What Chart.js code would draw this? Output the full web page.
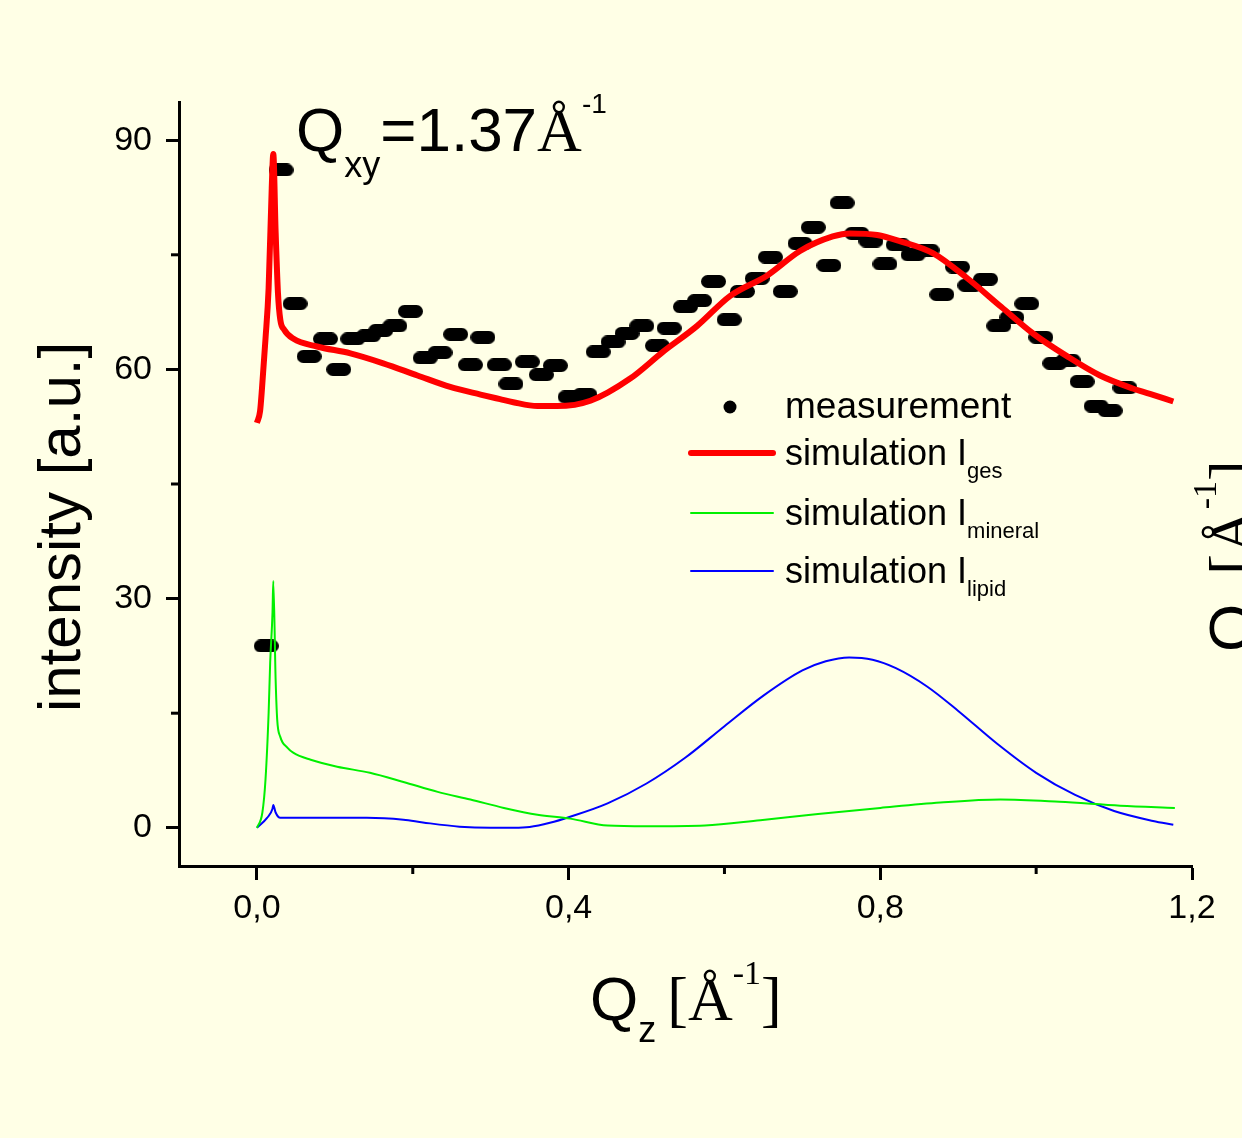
<!DOCTYPE html>
<html>
<head>
<meta charset="utf-8">
<script src="https://cdn.jsdelivr.net/npm/chart.js@4.4.0/dist/chart.umd.min.js"></script>
<style>
  html, body { margin: 0; padding: 0; background: #ffffe6; }
  canvas { display: block; }
</style>
</head>
<body>
<canvas id="chart" width="1242" height="1138"></canvas>
<script>
// measured points
const measQ = [0.012, 0.031, 0.049, 0.067, 0.088, 0.105, 0.123, 0.143, 0.159, 0.177, 0.197, 0.216, 0.235, 0.255, 0.274, 0.290,
  0.311, 0.326, 0.347, 0.365, 0.383, 0.402, 0.421, 0.438, 0.457, 0.475, 0.494, 0.514, 0.529, 0.550, 0.568, 0.586,
  0.606, 0.623, 0.642, 0.659, 0.678, 0.697, 0.714, 0.734, 0.751, 0.770, 0.788, 0.806, 0.823, 0.842, 0.860, 0.879,
  0.899, 0.915, 0.935, 0.952, 0.969, 0.988, 1.006, 1.024, 1.041, 1.059, 1.077, 1.095, 1.114];
const measI = [23.8, 86.1, 68.6, 61.7, 64.0, 60.0, 64.0, 64.4, 65.1, 65.7, 67.6, 61.5, 62.2, 64.6, 60.6, 64.2,
  60.6, 58.1, 61.0, 59.3, 60.5, 56.4, 56.7, 62.3, 63.6, 64.7, 65.7, 63.1, 65.4, 68.2, 69.0, 71.5,
  66.5, 70.2, 71.9, 74.7, 70.2, 76.5, 78.6, 73.6, 81.8, 77.8, 76.8, 73.8, 76.3, 75.0, 75.6, 69.8,
  73.4, 71.0, 71.8, 65.7, 66.8, 68.6, 64.2, 60.8, 61.2, 58.4, 55.2, 54.6, 57.6];

// simulation I_ges
const gesQ = [0.000, 0.004, 0.0065, 0.011, 0.015, 0.019, 0.021, 0.024, 0.027, 0.030, 0.035, 0.047, 0.077, 0.120, 0.162,
  0.206, 0.248, 0.287, 0.312, 0.329, 0.360, 0.385, 0.428, 0.479, 0.521, 0.565, 0.607, 0.655, 0.697, 0.739, 0.761,
  0.796, 0.825, 0.868, 0.912, 0.955, 0.996, 1.040, 1.082, 1.124, 1.146, 1.176];
const gesI = [53.0, 54.5, 57.5, 64.0, 70.6, 83.7, 88.2, 78.0, 70.0, 66.5, 65.2, 64.0, 63.0, 62.1, 60.8,
  59.2, 57.7, 56.7, 56.1, 55.7, 55.2, 55.2, 55.9, 58.8, 62.3, 65.7, 69.6, 72.3, 75.5, 77.4, 77.8,
  77.6, 76.8, 75.2, 71.9, 68.2, 64.7, 61.7, 59.2, 57.5, 56.8, 55.8];

// simulation I_mineral
const minQ = [0.000, 0.007, 0.011, 0.015, 0.017, 0.020, 0.021, 0.024, 0.026, 0.030, 0.039, 0.047, 0.069, 0.103, 0.145,
  0.188, 0.232, 0.274, 0.317, 0.360, 0.402, 0.450, 0.500, 0.575, 0.646, 0.720, 0.800, 0.877, 0.954, 1.030, 1.108, 1.178];
const minI = [0.0, 2.0, 6.3, 15.0, 21.6, 28.2, 32.3, 19.4, 14.2, 11.9, 10.5, 9.8, 8.9, 8.0, 7.2,
  6.0, 4.7, 3.7, 2.6, 1.7, 1.2, 0.3, 0.2, 0.3, 1.0, 1.8, 2.6, 3.3, 3.7, 3.4, 2.9, 2.6];

// simulation I_lipid
const lipQ = [0.000, 0.013, 0.020, 0.021, 0.024, 0.030, 0.141, 0.188, 0.213, 0.260, 0.300, 0.330, 0.350, 0.376, 0.402,
  0.450, 0.500, 0.550, 0.600, 0.650, 0.700, 0.730, 0.760, 0.790, 0.820, 0.860, 0.900, 0.950, 1.000, 1.050, 1.100, 1.150, 1.176];
const lipI = [0.0, 1.3, 2.5, 3.0, 2.0, 1.3, 1.3, 1.05, 0.7, 0.15, 0.0, 0.0, 0.1, 0.65, 1.45,
  3.2, 5.8, 9.2, 13.3, 17.3, 20.6, 21.8, 22.3, 22.0, 20.9, 18.5, 15.3, 11.0, 7.2, 4.3, 2.2, 0.9, 0.4];

const xTicks = [0, 0.2, 0.4, 0.6, 0.8, 1.0, 1.2];
const xTickLabels = ["0,0", "", "0,4", "", "0,8", "", "1,2"];
const yTicks = [0, 15, 30, 45, 60, 75, 90];
const yTickLabels = ["0", "", "30", "", "60", "", "90"];

const SANS = "'Liberation Sans', Arial, sans-serif";
const SERIF = "'Liberation Serif', 'Times New Roman', serif";
const BG = "#ffffe6";

function pts(xs, ys) { return xs.map((x, i) => ({ x: x, y: ys[i] })); }

// the measured points look like short black pills
function makePill(w, h) {
  const c = document.createElement("canvas");
  c.width = w; c.height = h;
  const g = c.getContext("2d");
  const r = h / 2;
  g.fillStyle = "#000";
  g.beginPath();
  g.arc(r, r, r, Math.PI / 2, Math.PI * 1.5);
  g.lineTo(w - r, 0);
  g.arc(w - r, r, r, -Math.PI / 2, Math.PI / 2);
  g.closePath();
  g.fill();
  return c;
}

// text run with sub/superscripts: parts = [[text, font, dy], ...]
function drawRich(ctx, parts, x, y) {
  let cx = x;
  parts.forEach(p => {
    ctx.font = p[1];
    ctx.fillText(p[0], cx, y + (p[2] || 0));
    cx += ctx.measureText(p[0]).width;
  });
  return cx;
}

const qzParts = [
  ["Q", "62px " + SANS, 0],
  ["z", "36px " + SANS, 22],
  [" ", "40px " + SANS, 0],
  ["[", "62px " + SERIF, 0],
  ["Å", "62px " + SERIF, 0],
  ["-1", "34px " + SERIF, -36],
  ["]", "62px " + SERIF, 0]
];

const bgPlugin = {
  id: "bg",
  beforeDraw(chart) {
    const c = chart.ctx;
    c.save();
    c.fillStyle = BG;
    c.fillRect(0, 0, chart.width, chart.height);
    c.restore();
  }
};

const textPlugin = {
  id: "texts",
  afterDraw(chart) {
    const c = chart.ctx;
    const xs = chart.scales.x, ys = chart.scales.y;
    c.save();
    c.fillStyle = "#000";
    c.textBaseline = "alphabetic";
    c.textAlign = "left";

    // minor ticks (shorter)
    c.strokeStyle = "#000";
    c.lineWidth = 3;
    xTicks.forEach((v, i) => {
      if (xTickLabels[i]) return;
      const px = xs.getPixelForValue(v);
      c.beginPath(); c.moveTo(px, xs.top); c.lineTo(px, xs.top + 8); c.stroke();
    });
    yTicks.forEach((v, i) => {
      if (yTickLabels[i]) return;
      const py = ys.getPixelForValue(v);
      c.beginPath(); c.moveTo(ys.right, py); c.lineTo(ys.right - 8, py); c.stroke();
    });

    // top label
    drawRich(c, [
      ["Q", "62px " + SANS, 0],
      ["xy", "36px " + SANS, 26],
      ["=1.37", "62px " + SANS, 0],
      ["Å", "62px " + SERIF, 0],
      ["-1", "28px " + SANS, -38]
    ], 296, 151);

    // x title
    drawRich(c, qzParts, 590, 1020);

    // y title
    c.save();
    c.translate(80, 527);
    c.rotate(-Math.PI / 2);
    c.font = "60px " + SANS;
    c.textAlign = "center";
    c.fillText("intensity [a.u.]", 0, 0);
    c.restore();

    // cut-off title at the right edge
    c.save();
    c.translate(1252, 652);
    c.rotate(-Math.PI / 2);
    drawRich(c, qzParts, 0, 0);
    c.restore();

    // legend
    const ds = chart.data.datasets;
    const lx = 785;
    c.beginPath(); c.arc(730, 407, 6.5, 0, Math.PI * 2); c.fill();
    c.font = "37px " + SANS;
    c.fillText("measurement", lx, 418);
    const rows = [
      [ds[0], "ges", 453, 465],
      [ds[1], "mineral", 513, 525],
      [ds[2], "lipid", 571, 583]
    ];
    rows.forEach(r => {
      c.strokeStyle = r[0].borderColor;
      c.lineWidth = r[0].borderWidth;
      c.lineCap = "round";
      c.beginPath(); c.moveTo(691, r[2]); c.lineTo(773, r[2]); c.stroke();
      drawRich(c, [["simulation I", "36px " + SANS, 0], [r[1], "22px " + SANS, 13]], lx, r[3]);
    });
    c.restore();
  }
};

document.addEventListener("DOMContentLoaded", () => {
  const ctx = document.getElementById("chart").getContext("2d");
  const pill = makePill(25, 13);

  new Chart(ctx, {
    type: "scatter",
    data: {
      datasets: [
        { label: "simulation I ges", data: pts(gesQ, gesI), showLine: true, borderColor: "#ff0000", borderWidth: 6,
          pointRadius: 0, cubicInterpolationMode: "monotone", order: 0 },
        { label: "simulation I mineral", data: pts(minQ, minI), showLine: true, borderColor: "#00f000", borderWidth: 2,
          pointRadius: 0, cubicInterpolationMode: "monotone", order: 1 },
        { label: "simulation I lipid", data: pts(lipQ, lipI), showLine: true, borderColor: "#0000ff", borderWidth: 2,
          pointRadius: 0, cubicInterpolationMode: "monotone", order: 2 },
        { label: "measurement", data: pts(measQ, measI), showLine: false, pointStyle: pill, order: 3 }
      ]
    },
    options: {
      responsive: false,
      animation: false,
      layout: { padding: { top: 102, right: 50, left: 0, bottom: 0 } },
      plugins: { legend: { display: false }, tooltip: { enabled: false } },
      scales: {
        x: {
          type: "linear", min: -0.1, max: 1.2,
          afterBuildTicks: s => { s.ticks = xTicks.map(v => ({ value: v })); },
          afterFit: s => { s.height = 272; },
          ticks: { callback: (v, i) => xTickLabels[i], color: "#000", padding: 8, maxRotation: 0, autoSkip: false,
            font: { family: SANS, size: 34 } },
          grid: { drawOnChartArea: false, tickLength: 14, tickWidth: 3,
            tickColor: c => xTickLabels[c.index] ? "#000" : "rgba(0,0,0,0)" },
          border: { color: "#000", width: 3 }
        },
        y: {
          type: "linear", min: -5, max: 95,
          afterBuildTicks: s => { s.ticks = yTicks.map(v => ({ value: v })); },
          afterFit: s => { s.width = 179; },
          ticks: { callback: (v, i) => yTickLabels[i], color: "#000", padding: 14, autoSkip: false,
            font: { family: SANS, size: 34 } },
          grid: { drawOnChartArea: false, tickLength: 13, tickWidth: 3,
            tickColor: c => yTickLabels[c.index] ? "#000" : "rgba(0,0,0,0)" },
          border: { color: "#000", width: 3 }
        }
      }
    },
    plugins: [bgPlugin, textPlugin]
  });
});
</script>
</body>
</html>
